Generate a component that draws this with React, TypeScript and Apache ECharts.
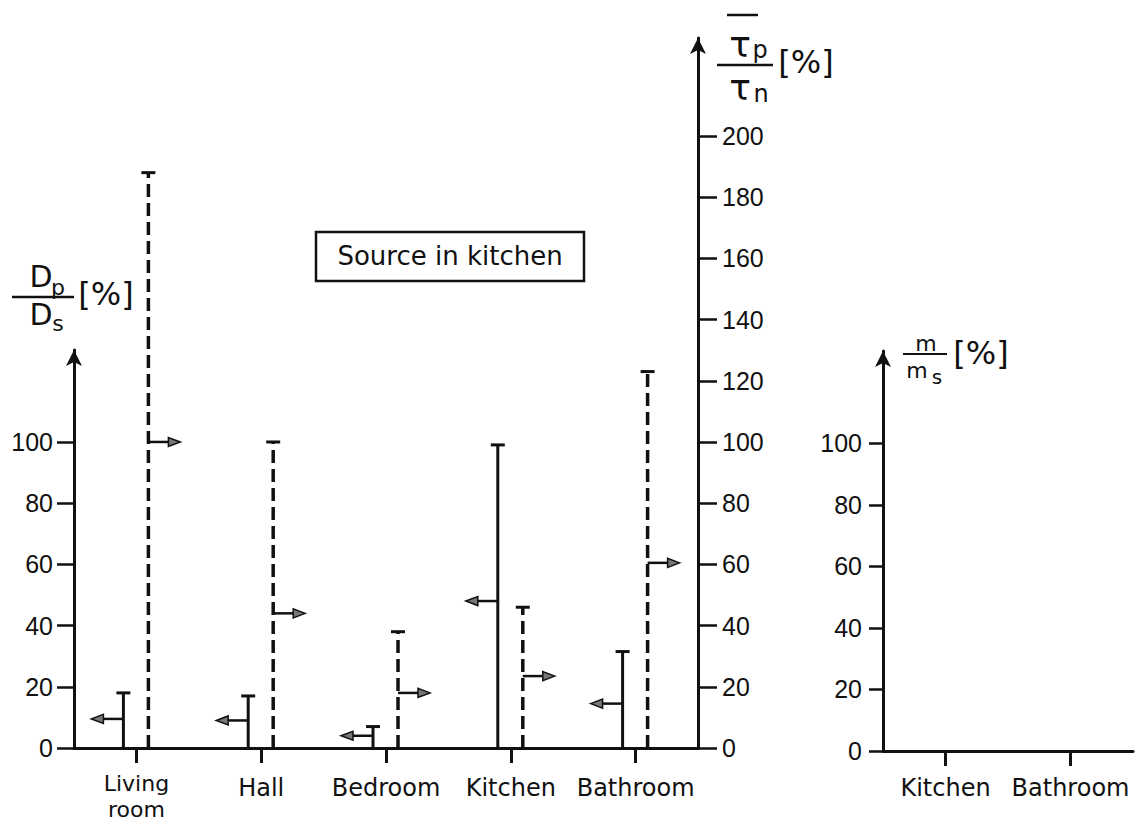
import React, { useEffect, useRef } from "react";
import * as echarts from "echarts";

// ---- data ----
const rooms = ["Living\nroom", "Hall", "Bedroom", "Kitchen", "Bathroom"];
const dRatioMax = [18, 17, 7, 99, 31.5];
const dRatioMean = [9.5, 9, 4, 48, 14.5];
const tauRatioMax = [188, 100, 38, 46, 123];
const tauRatioMean = [100, 44, 18, 23.5, 60.5];
const leftTicks = [0, 20, 40, 60, 80, 100];
const rightTicks = [0, 20, 40, 60, 80, 100, 120, 140, 160, 180, 200];
const massRooms = ["Kitchen", "Bathroom"];
const massTicks = [0, 20, 40, 60, 80, 100];

const INK = "#111";
const FONT = "DejaVu Sans";
const NUMFONT = "Liberation Sans";

function makeRender(offset: number, dir: number, dashed: boolean) {
  return (params: any, api: any) => {
    const i = api.value(0);
    const base = api.coord([i, 0]);
    const x = base[0] + offset;
    const y0 = base[1];
    const yTop = api.coord([i, api.value(1)])[1];
    const yMean = api.coord([i, api.value(2)])[1];
    const L = 32;
    return {
      type: "group",
      children: [
        {
          type: "line",
          shape: { x1: x, y1: y0, x2: x, y2: yTop },
          style: { stroke: INK, lineWidth: dashed ? 3.5 : 3, lineDash: dashed ? [13, 6] : null },
        },
        {
          type: "line",
          shape: { x1: x - 7, y1: yTop, x2: x + 7, y2: yTop },
          style: { stroke: INK, lineWidth: 3 },
        },
        {
          type: "line",
          shape: { x1: x, y1: yMean, x2: x + dir * (L - 9), y2: yMean },
          style: { stroke: INK, lineWidth: 2.5 },
        },
        {
          type: "polygon",
          shape: {
            points: [
              [x + dir * L, yMean],
              [x + dir * (L - 12), yMean - 4.5],
              [x + dir * (L - 12), yMean + 4.5],
            ],
          },
          style: { fill: "#777", stroke: INK, lineWidth: 1.5 },
        },
      ],
    };
  };
}

const catLabel = {
  color: INK,
  fontFamily: FONT,
  fontSize: 24,
  lineHeight: 36,
  margin: 22,
  interval: 0,
};
const catTick = {
  show: true,
  interval: 0,
  alignWithLabel: true,
  length: 15,
  lineStyle: { color: INK, width: 3 },
};
const valLabel = { color: INK, fontFamily: NUMFONT, fontSize: 25 };
const axisLineStyle = { color: INK, width: 3 };

function txt(text: string, x: number, y: number, size: number, align = "center") {
  return {
    type: "text",
    x,
    y,
    style: {
      text,
      fill: INK,
      font: `${size}px "${FONT}"`,
      textAlign: align,
      textVerticalAlign: "middle",
    },
  };
}
function hline(x1: number, x2: number, y: number, w: number) {
  return {
    type: "line",
    shape: { x1, y1: y, x2, y2: y },
    style: { stroke: INK, lineWidth: w },
  };
}

export default function App() {
  const ref = useRef<HTMLDivElement>(null);
  useEffect(() => {
    if (!ref.current) return;
    const chart = echarts.init(ref.current, null, { renderer: "svg" });
    const roomItems = rooms.map((r) =>
      r.indexOf("\n") >= 0 ? { value: r, textStyle: { fontSize: 22, lineHeight: 26 } } : r
    );
    const option: any = {
      animation: false,
      backgroundColor: "#fff",
      grid: [
        { left: 74, top: 350, width: 624, height: 398, outerBoundsMode: "none", containLabel: false },
        { left: 74, top: 38, width: 624, height: 710, outerBoundsMode: "none", containLabel: false },
        { left: 883, top: 351, width: 250, height: 400, outerBoundsMode: "none", containLabel: false },
      ],
      xAxis: [
        {
          type: "category",
          gridIndex: 0,
          data: roomItems,
          axisLine: { lineStyle: axisLineStyle },
          axisTick: catTick,
          axisLabel: catLabel,
          splitLine: { show: false },
        },
        { type: "category", gridIndex: 1, data: rooms, show: false },
        {
          type: "category",
          gridIndex: 2,
          data: massRooms,
          axisLine: { lineStyle: axisLineStyle },
          axisTick: catTick,
          axisLabel: { ...catLabel, lineHeight: 24, margin: 25 },
          splitLine: { show: false },
        },
      ],
      yAxis: [
        {
          type: "value",
          gridIndex: 0,
          min: 0,
          max: 130,
          axisLine: { show: true, symbol: ["none", "arrow"], symbolSize: [12, 16], lineStyle: axisLineStyle },
          axisTick: { show: true, length: 17, customValues: leftTicks, lineStyle: { color: INK, width: 2.5 } },
          axisLabel: { ...valLabel, margin: 21, customValues: leftTicks },
          splitLine: { show: false },
        },
        {
          type: "value",
          gridIndex: 1,
          position: "right",
          min: 0,
          max: 232,
          axisLine: { show: true, symbol: ["none", "arrow"], symbolSize: [12, 16], lineStyle: axisLineStyle },
          axisTick: { show: true, length: 19, customValues: rightTicks, lineStyle: { color: INK, width: 2.5 } },
          axisLabel: { ...valLabel, margin: 24, customValues: rightTicks },
          splitLine: { show: false },
        },
        {
          type: "value",
          gridIndex: 2,
          min: 0,
          max: 130,
          axisLine: { show: true, symbol: ["none", "arrow"], symbolSize: [12, 16], lineStyle: axisLineStyle },
          axisTick: { show: true, length: 14, customValues: massTicks, lineStyle: { color: INK, width: 2.5 } },
          axisLabel: { ...valLabel, margin: 21, customValues: massTicks },
          splitLine: { show: false },
        },
      ],
      series: [
        {
          type: "custom",
          name: "Dp/Ds",
          xAxisIndex: 0,
          yAxisIndex: 0,
          renderItem: makeRender(-13, -1, false),
          data: rooms.map((_, i) => [i, dRatioMax[i], dRatioMean[i]]),
        },
        {
          type: "custom",
          name: "tau_p/tau_n",
          xAxisIndex: 1,
          yAxisIndex: 1,
          renderItem: makeRender(12, 1, true),
          data: rooms.map((_, i) => [i, tauRatioMax[i], tauRatioMean[i]]),
        },
      ],
      graphic: [
        // Dp/Ds [%]
        hline(12, 74, 297, 2.5),
        txt("D", 41, 276, 30),
        txt("p", 58, 287, 22),
        txt("D", 41, 314, 30),
        txt("s", 58, 323, 22),
        txt("[%]", 106, 294, 32),
        // tau_p / tau_n [%]
        hline(717, 773, 65, 2.5),
        hline(727, 758, 15, 2.5),
        txt("τ", 740, 44, 36),
        txt("p", 760, 50, 24),
        txt("τ", 740, 87, 36),
        txt("n", 761, 94, 24),
        txt("[%]", 806, 62, 32),
        // m / ms [%]
        hline(903, 947, 354, 2),
        txt("m", 926, 343, 22),
        txt("m", 917, 370, 22),
        txt("s", 937, 377, 20),
        txt("[%]", 981, 353, 32),
        // box
        {
          type: "rect",
          shape: { x: 316, y: 232, width: 268, height: 49 },
          style: { fill: "none", stroke: INK, lineWidth: 2.5 },
        },
        txt("Source in kitchen", 450, 256, 26),
      ],
    };
    chart.setOption(option);
    return () => chart.dispose();
  }, []);
  return (
    <div
      ref={ref}
      style={{ position: "absolute", left: 0, top: 0, width: 1143, height: 823 }}
    />
  );
}
